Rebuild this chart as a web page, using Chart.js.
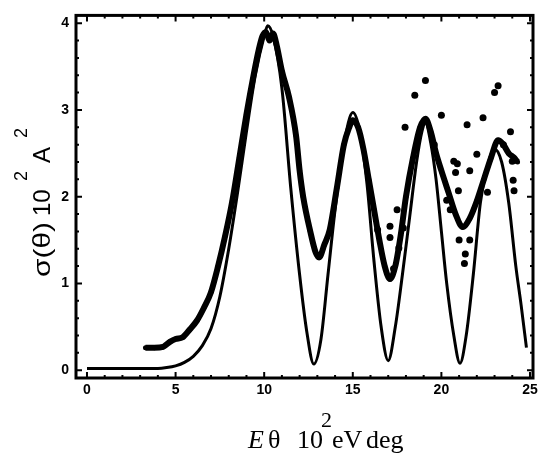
<!DOCTYPE html>
<html>
<head>
<meta charset="utf-8">
<script src="https://cdn.jsdelivr.net/npm/chart.js@4/dist/chart.umd.min.js"></script>
<style>
  body { margin: 0; background: #fff; }
  #wrap { width: 545px; height: 456px; }
</style>
</head>
<body>
<div id="wrap"><canvas id="myChart" width="545" height="456"></canvas></div>
<script>
// theory curve
var theoryX = [0, 1, 2, 3, 4, 4.5, 5, 5.5, 6, 6.5, 7, 7.5, 8, 8.5, 9, 9.5, 10, 10.2, 10.5, 11, 11.5, 12, 12.4, 12.8, 13.2, 13.6, 14, 14.5, 15, 15.4, 15.8, 16.2, 16.6, 17, 17.4, 17.8, 18.2, 18.6, 18.9, 19.1, 19.4, 19.7, 20, 20.3, 20.7, 21.05, 21.4, 21.8, 22.2, 22.6, 23, 23.4, 23.8, 24.2, 24.5, 24.8];
var theoryY = [0.02, 0.02, 0.02, 0.02, 0.02, 0.03, 0.05, 0.09, 0.16, 0.28, 0.48, 0.85, 1.4, 2.05, 2.75, 3.4, 3.85, 3.97, 3.85, 3.25, 2.1, 1.1, 0.45, 0.07, 0.35, 1.1, 1.85, 2.6, 2.97, 2.75, 2.15, 1.25, 0.5, 0.11, 0.5, 1.1, 1.75, 2.4, 2.75, 2.85, 2.62, 2.2, 1.6, 1.0, 0.4, 0.08, 0.4, 1.1, 1.93, 2.35, 2.55, 2.4, 1.93, 1.2, 0.75, 0.26];

// measured points (dense band)
var exptX = [3.3, 3.8, 4.3, 4.7, 5.0, 5.4, 5.8, 6.2, 6.6, 7.0, 7.4, 7.8, 8.2, 8.6, 9.0, 9.4, 9.7, 9.9, 10.1, 10.3, 10.5, 10.7, 11.0, 11.4, 11.8, 12.0, 12.2, 12.6, 12.9, 13.1, 13.4, 13.7, 14.1, 14.5, 14.8, 15.0, 15.3, 15.6, 15.9, 16.2, 16.5, 16.8, 17.1, 17.4, 17.7, 18.0, 18.4, 18.8, 19.1, 19.4, 19.7, 20.0, 20.4, 20.8, 21.2, 21.6, 22.0, 22.4, 22.8, 23.2, 23.5, 23.8, 24.1, 24.3];
var exptY = [0.26, 0.26, 0.27, 0.33, 0.36, 0.38, 0.47, 0.57, 0.72, 0.9, 1.2, 1.55, 1.95, 2.45, 2.95, 3.4, 3.7, 3.85, 3.9, 3.8, 3.88, 3.75, 3.45, 3.15, 2.7, 2.3, 2.0, 1.6, 1.36, 1.3, 1.45, 1.62, 2.1, 2.6, 2.8, 2.88, 2.8, 2.55, 2.2, 1.85, 1.5, 1.2, 1.05, 1.2, 1.55, 2.0, 2.45, 2.8, 2.9, 2.75, 2.5, 2.3, 2.05, 1.8, 1.65, 1.75, 1.95, 2.2, 2.45, 2.65, 2.6, 2.5, 2.45, 2.4];

// scattered measured points
var scatX = [17.95, 18.5, 19.1, 20.0, 20.3, 20.7, 20.9, 20.96, 20.8, 21.45, 21.6, 22.0, 22.35, 23.0, 23.2, 23.5, 24.0, 24.05, 24.1, 21.0, 21.6, 21.35, 21.3, 17.1, 17.1, 17.6, 16.4, 17.5, 17.85, 17.3, 20.5, 19.6, 22.6, 23.9];
var scatY = [2.8, 3.17, 3.34, 2.94, 1.96, 2.41, 2.38, 2.07, 2.28, 2.83, 2.3, 2.49, 2.91, 3.2, 3.28, 2.6, 2.41, 2.19, 2.07, 1.5, 1.5, 1.34, 1.23, 1.66, 1.53, 1.41, 1.62, 1.85, 1.64, 1.17, 1.85, 2.6, 2.05, 2.75];

var xTickValues = [0, 5, 10, 15, 20, 25];
var yTickValues = [0, 1, 2, 3, 4];

function pts(xs, ys) {
    var out = [];
    for (i = 0; i < xs.length; i++) {
        out.push({ x: xs[i], y: ys[i] });
    }
    return out;
}

// stretch text along its run to span [x0, x1]
function fitText(ctx, txt, x0, x1, y) {
    var w = ctx.measureText(txt).width;
    ctx.save();
    ctx.translate(x0, y);
    ctx.scale((x1 - x0) / w, 1);
    ctx.fillText(txt, 0, 0);
    ctx.restore();
}

// frame, inward ticks and axis titles
var framePlugin = {
    id: 'frame',
    afterDraw: function (chart) {
        var ctx = chart.ctx;
        var a = chart.chartArea;
        var xs = chart.scales.x;
        var ys = chart.scales.y;
        ctx.save();
        ctx.strokeStyle = '#000';
        ctx.lineWidth = 3;
        ctx.strokeRect(a.left, a.top, a.right - a.left, a.bottom - a.top);

        ctx.lineWidth = 2;
        ctx.beginPath();
        for (var v = 0; v <= 25; v++) {
            var px = xs.getPixelForValue(v);
            var len = (v % 5 === 0) ? 6 : 3;
            ctx.moveTo(px, a.bottom); ctx.lineTo(px, a.bottom - len);
            ctx.moveTo(px, a.top); ctx.lineTo(px, a.top + len);
        }
        for (var k = 0; k <= 20; k++) {
            var py = ys.getPixelForValue(k * 0.2);
            var l2 = (k % 5 === 0) ? 6 : 3;
            ctx.moveTo(a.left, py); ctx.lineTo(a.left + l2, py);
            ctx.moveTo(a.right, py); ctx.lineTo(a.right - l2, py);
        }
        ctx.stroke();

        // x title
        ctx.fillStyle = '#000';
        ctx.textBaseline = 'alphabetic';
        ctx.textAlign = 'left';
        ctx.font = 'italic 26px "Liberation Serif"';
        ctx.fillText('E', 248, 448);
        ctx.font = '26px "Liberation Serif"';
        ctx.fillText('\u03b8', 268, 448);
        ctx.fillText('10', 297, 448);
        ctx.fillText('eV', 332, 448);
        ctx.fillText('deg', 366, 448);
        ctx.font = '22px "Liberation Serif"';
        ctx.fillText('2', 321, 427);

        // y title (rotated)
        ctx.translate(50, 0);
        ctx.rotate(-Math.PI / 2);
        ctx.font = '24px "Liberation Sans"';
        fitText(ctx, '\u03c3(\u03b8)', -277, -222, 0);
        ctx.fillText('10', -216, 0);
        ctx.fillText('A', -163, 0);
        ctx.font = '18px "Liberation Sans"';
        ctx.fillText('2', -181, -23);
        ctx.fillText('2', -138, -23);
        ctx.restore();
    }
};

var ctx = document.getElementById('myChart');
var chart = new Chart(ctx, {
    type: 'scatter',
    data: {
        datasets: [
            {
                label: 'theory',
                data: pts(theoryX, theoryY),
                showLine: true,
                borderColor: '#000',
                borderWidth: 3,
                pointRadius: 0,
                cubicInterpolationMode: 'monotone'
            },
            {
                label: 'experiment',
                data: pts(exptX, exptY),
                showLine: true,
                borderColor: '#000',
                backgroundColor: '#000',
                borderWidth: 6,
                pointRadius: 2.5,
                pointBorderWidth: 0,
                cubicInterpolationMode: 'monotone'
            },
            {
                label: 'scatter',
                data: pts(scatX, scatY),
                showLine: false,
                borderColor: '#000',
                backgroundColor: '#000',
                pointBorderWidth: 0,
                pointRadius: 3.5
            }
        ]
    },
    options: {
        responsive: false,
        animation: false,
        layout: { padding: { top: 9, right: 12, left: 0, bottom: 0 } },
        plugins: {
            legend: { display: false },
            tooltip: { enabled: false }
        },
        scales: {
            x: {
                type: 'linear',
                min: -0.62,
                max: 25.17,
                grid: { display: false, drawTicks: false },
                border: { display: false },
                afterBuildTicks: function (scale) {
                    scale.ticks = xTickValues.map(function (v) { return { value: v }; });
                },
                afterFit: function (scale) { scale.height = 78; },
                ticks: {
                    padding: 4,
                    color: '#000',
                    font: { family: 'Liberation Sans', size: 14, weight: 'bold' }
                }
            },
            y: {
                type: 'linear',
                min: -0.09,
                max: 4.09,
                grid: { display: false, drawTicks: false },
                border: { display: false },
                afterBuildTicks: function (scale) {
                    scale.ticks = yTickValues.map(function (v) { return { value: v }; });
                },
                afterFit: function (scale) { scale.width = 76; },
                ticks: {
                    padding: 7,
                    color: '#000',
                    font: { family: 'Liberation Sans', size: 14, weight: 'bold' }
                }
            }
        }
    },
    plugins: [framePlugin]
});
</script>
</body>
</html>
